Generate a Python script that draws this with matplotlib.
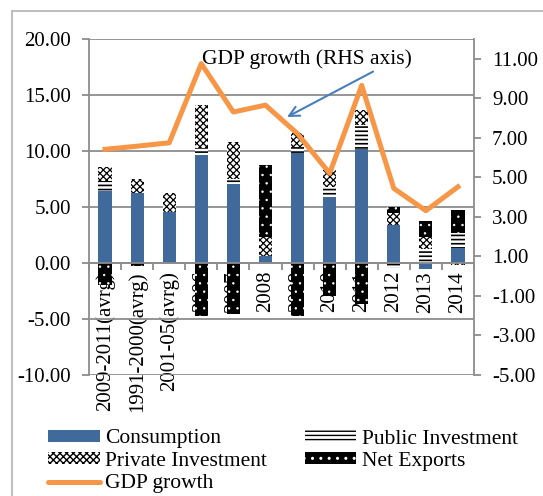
import matplotlib
matplotlib.use('Agg')
import matplotlib.pyplot as plt
import numpy as np
from matplotlib.patches import Rectangle, Patch
from matplotlib.lines import Line2D
from matplotlib.ticker import FormatStrFormatter

categories = ["2009-2011(avrg)", "1991-2000(avrg)", "2001-05(avrg)", "2006", "2007",
              "2008", "2009", "2010", "2011", "2012", "2013", "2014"]
consumption = [6.43, 6.25, 4.52, 9.67, 7.0, 0.63, 9.85, 5.83, 10.18, 3.36, -0.55, 1.28]
public_inv = [0.85, 0.0, 0.0, 0.6, 0.45, 0.0, 0.5, 0.95, 2.1, -0.5, 1.19, 1.34]
private_inv = [1.23, 1.2, 1.73, 3.84, 3.36, 1.7, 1.2, 1.5, 1.35, 1.1, 1.13, -0.25]
net_exports = [-2.0, -0.3, 0.0, -4.8, -4.55, 6.37, -4.8, -3.0, -3.7, 0.48, 1.4, 2.08]
gdp_growth = [6.41, 6.57, 6.74, 10.75, 8.3, 8.65, 7.2, 5.19, 9.65, 4.43, 3.3, 4.51]

plt.rcParams['font.family'] = ['Liberation Serif', 'DejaVu Serif']
plt.rcParams['font.size'] = 15

W, H = 543, 496
fig = plt.figure(figsize=(W / 100, H / 100), dpi=100)
L, R, T, B = 89, 474, 39, 374.5
ax = fig.add_axes([L / W, 1 - B / H, (R - L) / W, (B - T) / H])
ax.set_axisbelow(True)
n = len(categories)
x = np.arange(n)
ax.set_xlim(-0.5, n - 0.5)
ax.set_ylim(-10, 20)

blue = '#40699C'
orange = '#F79646'
grey = '#8C8C8C'

styles = [
    dict(facecolor=blue, edgecolor=blue, linewidth=0),
    dict(facecolor='white', edgecolor='black', hatch='----', linewidth=0),
    dict(facecolor='white', edgecolor='black', hatch='xxxxx', linewidth=0),
    dict(facecolor='black', edgecolor='white', hatch='..', linewidth=0),
]
hatch_lws = [1.0, 1.2, 0.9, 0.5]


def apply_hlw(p, lw):
    if hasattr(p, 'set_hatch_linewidth'):
        p.set_hatch_linewidth(lw)


pos = np.zeros(n)
neg = np.zeros(n)
for vals, st, hlw in zip([consumption, public_inv, private_inv, net_exports], styles, hatch_lws):
    v = np.array(vals, dtype=float)
    bottom = np.where(v >= 0, pos, neg)
    with plt.rc_context({'hatch.linewidth': hlw}):
        bars = ax.bar(x, v, width=0.41, bottom=bottom, zorder=1, **st)
    for p in bars:
        apply_hlw(p, hlw)
    pos += np.where(v > 0, v, 0)
    neg += np.where(v < 0, v, 0)

ax.grid(axis='y', color=grey, lw=1.3)
ax.set_yticks(np.arange(-10, 21, 5))
ax.yaxis.set_major_formatter(FormatStrFormatter('%.2f'))
ax.tick_params(axis='y', direction='out', length=5, width=1.3, color=grey, pad=8)
ax.spines['top'].set_visible(False)
ax.spines['right'].set_visible(False)
ax.spines['left'].set_color(grey)
ax.spines['left'].set_linewidth(1.3)
ax.spines['bottom'].set_position(('data', 0))
ax.spines['bottom'].set_color(grey)
ax.spines['bottom'].set_linewidth(1.3)
ax.set_xticks(np.arange(-0.5, n, 1))
ax.set_xticks(x, minor=True)
ax.set_xticklabels(categories, minor=True, rotation=90)
ax.tick_params(axis='x', which='major', length=5, direction='out', color=grey, width=1.3,
               labelbottom=False)
ax.tick_params(axis='x', which='minor', length=0, pad=6)

ax2 = ax.twinx()
ax2.set_ylim(-5, 12)
ax2.set_yticks(np.arange(-5, 12, 2))
ax2.yaxis.set_major_formatter(FormatStrFormatter('%.2f'))
ax2.plot(x, gdp_growth, color=orange, lw=3.6)
for s in ['left', 'top', 'bottom']:
    ax2.spines[s].set_visible(False)
ax2.spines['right'].set_color(grey)
ax2.spines['right'].set_linewidth(1.3)
ax2.tick_params(axis='y', direction='out', length=5, width=1.3, color=grey, pad=8)

fig.text(307 / W, 1 - 59.5 / H, 'GDP growth (RHS axis)', ha='center', va='center', fontsize=15.5)
ax2.annotate('', xy=(287 / W, 1 - 117 / H), xytext=(373 / W, 1 - 71.6 / H),
             xycoords='figure fraction', textcoords='figure fraction',
             arrowprops=dict(arrowstyle='->', color='#4A7EBB', lw=1.5, mutation_scale=18,
                             shrinkA=0, shrinkB=0))

handles = []
for i in [0, 2]:
    with plt.rc_context({'hatch.linewidth': hatch_lws[i]}):
        p = Patch(**styles[i])
    apply_hlw(p, hatch_lws[i])
    handles.append(p)
handles.append(Line2D([], [], color=orange, lw=3.6, solid_capstyle='round'))
for i in [1, 3]:
    with plt.rc_context({'hatch.linewidth': hatch_lws[i]}):
        p = Patch(**styles[i])
    apply_hlw(p, hatch_lws[i])
    handles.append(p)
labels = ['Consumption', 'Private Investment', 'GDP growth', 'Public Investment', 'Net Exports']
fig.legend(handles, labels, ncol=2, loc='upper left', bbox_to_anchor=(48 / W, 1 - 429.5 / H),
           frameon=False, handlelength=2.4, handleheight=0.5, handletextpad=0.25,
           columnspacing=1.75, labelspacing=0.16, borderpad=0, borderaxespad=0, fontsize=15.5)

fig.add_artist(Rectangle((12 / W, -0.5), 2, 0.5 + 1 - 11 / H, transform=fig.transFigure,
                         fill=False, edgecolor='#BFBFBF', lw=1.5))

fig.savefig('out.png', dpi=100)
